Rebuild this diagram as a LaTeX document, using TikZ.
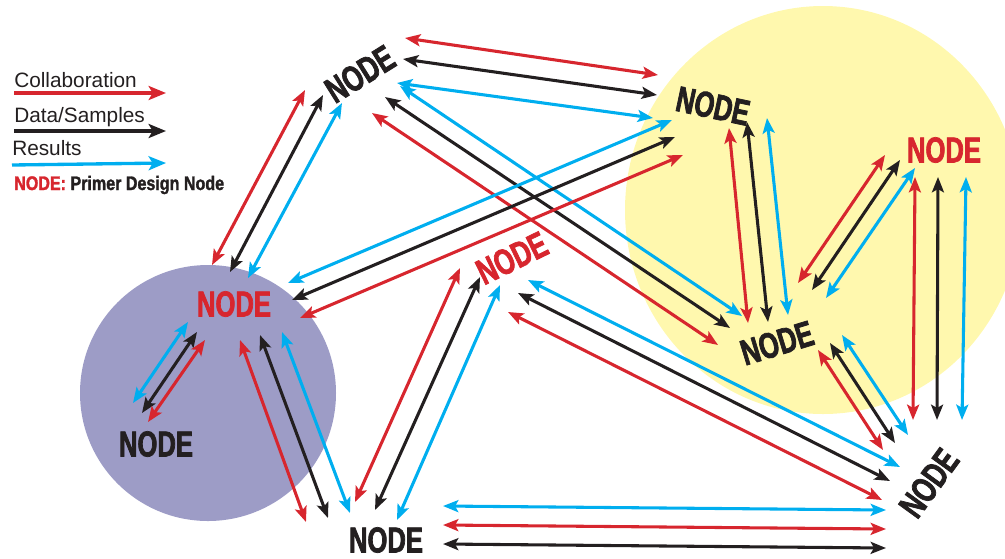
\documentclass[tikz,border=0pt]{standalone}
\usepackage{fontspec}
\usetikzlibrary{arrows.meta}
\setmainfont{Liberation Sans}
\newfontfamily\nodefont{Liberation Sans}[FakeStretch=0.71, FakeBold=2]
\newfontfamily\keyfont{Liberation Sans}[FakeStretch=0.82, FakeBold=1.5]

\definecolor{collabred}{HTML}{D7262E}
\definecolor{datablack}{HTML}{231F20}
\definecolor{resultblue}{HTML}{00AEEF}
\definecolor{groupyellow}{HTML}{FFF8AE}
\definecolor{grouppurple}{HTML}{9D9CC6}

\tikzset{
  link/.style={line width=2.3pt, {Stealth[length=11.5pt,width=9pt,inset=2.5pt]}-{Stealth[length=11.5pt,width=9pt,inset=2.5pt]}},
  redlink/.style={link, color=collabred},
  blacklink/.style={link, color=datablack},
  bluelink/.style={link, color=resultblue},
  keyarrow/.style={line width=2.5pt, -{Stealth[length=13pt,width=10.5pt,inset=3pt]}},
  mainnode/.style={font=\nodefont\bfseries\fontsize{27}{27}\selectfont, inner sep=0pt},
  blacknode/.style={mainnode, text=datablack},
  rednode/.style={mainnode, text=collabred},
  keytext/.style={font=\fontsize{15.6}{16}\selectfont, text=datablack, inner sep=0pt, anchor=base west},
  keybold/.style={font=\keyfont\bfseries\fontsize{14.7}{16}\selectfont, inner sep=0pt, anchor=base west}
}

\begin{document}
\begin{tikzpicture}[x=0.75pt,y=-0.75pt]
\useasboundingbox (0,0) rectangle (1005,558);

% group backgrounds
\begin{scope}
  \clip (0,0) rectangle (1005,558);
  \fill[groupyellow] (823,210) ellipse [x radius=198, y radius=204];
  \fill[grouppurple] (208,393) circle [radius=128];
\end{scope}

% nodes
\node[blacknode, rotate=32]  (nTL)  at (360,74)  {NODE};
\node[rednode]               (nP)   at (234,304) {NODE};
\node[blacknode]             (nBL)  at (156,444) {NODE};
\node[blacknode]             (nBot) at (386,540) {NODE};
\node[rednode, rotate=26]    (nCtr) at (512,258) {NODE};
\node[blacknode, rotate=-12] (nTR)  at (713,106) {NODE};
\node[rednode]               (nRR)  at (944,150) {NODE};
\node[blacknode, rotate=17]  (nMR)  at (777,343) {NODE};
\node[blacknode, rotate=54]  (nBR)  at (929,483) {NODE};

% nP -- nTL
\draw[redlink]   ([shift={(-22,-39)}]nP.center) -- ([shift={(-55,16)}]nTL.center);
\draw[blacklink] ([shift={(-4,-32)}]nP.center)  -- ([shift={(-37,21)}]nTL.center);
\draw[bluelink]  ([shift={(14,-26)}]nP.center)  -- ([shift={(-18,29)}]nTL.center);

% nTL -- nTR
\draw[redlink]   ([shift={(45,-36)}]nTL.center) -- ([shift={(-55,-31)}]nTR.center);
\draw[blacklink] ([shift={(43,-15)}]nTL.center) -- ([shift={(-56,-11)}]nTR.center);
\draw[bluelink]  ([shift={(37,9)}]nTL.center)   -- ([shift={(-60,12)}]nTR.center);

% nTL -- nMR
\draw[redlink]   ([shift={(12,39)}]nTL.center) -- ([shift={(-59,2)}]nMR.center);
\draw[blacklink] ([shift={(25,23)}]nTL.center) -- ([shift={(-47,-15)}]nMR.center);
\draw[bluelink]  ([shift={(40,12)}]nTL.center) -- ([shift={(-35,-27)}]nMR.center);

% nP -- nTR
\draw[bluelink]  ([shift={(54,-21)}]nP.center) -- ([shift={(-41,14)}]nTR.center);
\draw[blacklink] ([shift={(58,-4)}]nP.center)  -- ([shift={(-38,31)}]nTR.center);
\draw[redlink]   ([shift={(66,14)}]nP.center)  -- ([shift={(-30,49)}]nTR.center);

% nP -- nBot
\draw[redlink]   ([shift={(6,36)}]nP.center)  -- ([shift={(-80,-18)}]nBot.center);
\draw[blacklink] ([shift={(26,31)}]nP.center) -- ([shift={(-58,-22)}]nBot.center);
\draw[bluelink]  ([shift={(48,28)}]nP.center) -- ([shift={(-36,-27)}]nBot.center);

% nP -- nBL
\draw[bluelink]  ([shift={(-46,18)}]nP.center) -- ([shift={(-23,-41)}]nBL.center);
\draw[blacklink] ([shift={(-37,28)}]nP.center) -- ([shift={(-14,-31)}]nBL.center);
\draw[redlink]   ([shift={(-29,36)}]nP.center) -- ([shift={(-8,-22)}]nBL.center);

% nCtr -- nBot
\draw[redlink]   ([shift={(-52,10)}]nCtr.center) -- ([shift={(-31,-38)}]nBot.center);
\draw[blacklink] ([shift={(-32,19)}]nCtr.center) -- ([shift={(-11,-30)}]nBot.center);
\draw[bluelink]  ([shift={(-12,27)}]nCtr.center) -- ([shift={(11,-20)}]nBot.center);

% nCtr -- nBR
\draw[bluelink]  ([shift={(16,22)}]nCtr.center) -- ([shift={(-29,-16)}]nBR.center);
\draw[blacklink] ([shift={(6,35)}]nCtr.center)  -- ([shift={(-39,-2)}]nBR.center);
\draw[redlink]   ([shift={(-4,54)}]nCtr.center) -- ([shift={(-47,17)}]nBR.center);

% nBot -- nBR
\draw[bluelink]  ([shift={(57,-34)}]nBot.center) -- ([shift={(-43,27)}]nBR.center);
\draw[redlink]   ([shift={(57,-15)}]nBot.center) -- ([shift={(-43,46)}]nBR.center);
\draw[blacklink] ([shift={(57,4)}]nBot.center)   -- ([shift={(-43,65)}]nBR.center);

% nTR -- nMR
\draw[redlink]   ([shift={(16,22)}]nTR.center) -- ([shift={(-29,-20)}]nMR.center);
\draw[blacklink] ([shift={(34,16)}]nTR.center) -- ([shift={(-9,-21)}]nMR.center);
\draw[bluelink]  ([shift={(54,12)}]nTR.center) -- ([shift={(11,-28)}]nMR.center);

% nRR -- nMR
\draw[redlink]   ([shift={(-59,5)}]nRR.center)  -- ([shift={(21,-60)}]nMR.center);
\draw[blacklink] ([shift={(-44,10)}]nRR.center) -- ([shift={(35,-53)}]nMR.center);
\draw[bluelink]  ([shift={(-29,18)}]nRR.center) -- ([shift={(49,-45)}]nMR.center);

% nRR -- nBR
\draw[redlink]   ([shift={(-29,27)}]nRR.center) -- ([shift={(-16,-63)}]nBR.center);
\draw[blacklink] ([shift={(-6,27)}]nRR.center)  -- ([shift={(8,-63)}]nBR.center);
\draw[bluelink]  ([shift={(22,27)}]nRR.center)  -- ([shift={(33,-63)}]nBR.center);

% nMR -- nBR
\draw[redlink]   ([shift={(41,7)}]nMR.center)  -- ([shift={(-46,-33)}]nBR.center);
\draw[blacklink] ([shift={(53,0)}]nMR.center)  -- ([shift={(-34,-40)}]nBR.center);
\draw[bluelink]  ([shift={(65,-8)}]nMR.center) -- ([shift={(-21,-48)}]nBR.center);

% legend
\node[keytext] (kCollab)  at (14,87)  {Collaboration};
\node[keytext] (kData)    at (14,122) {Data/Samples};
\node[keytext] (kResults) at (12,155) {Results};
\node[keybold] (kNode)    at (14,190) {\textcolor{collabred}{NODE:} \textcolor{datablack}{Primer Design Node}};
\coordinate (kCollabA)  at (14,93);  \coordinate (kCollabB)  at (166,93);
\coordinate (kDataA)    at (14,131); \coordinate (kDataB)    at (166,131);
\coordinate (kResultsA) at (12,165); \coordinate (kResultsB) at (166,163);
\draw[keyarrow, color=collabred]  (kCollabA)  -- (kCollabB);
\draw[keyarrow, color=datablack]  (kDataA)    -- (kDataB);
\draw[keyarrow, color=resultblue] (kResultsA) -- (kResultsB);
\end{tikzpicture}
\end{document}
